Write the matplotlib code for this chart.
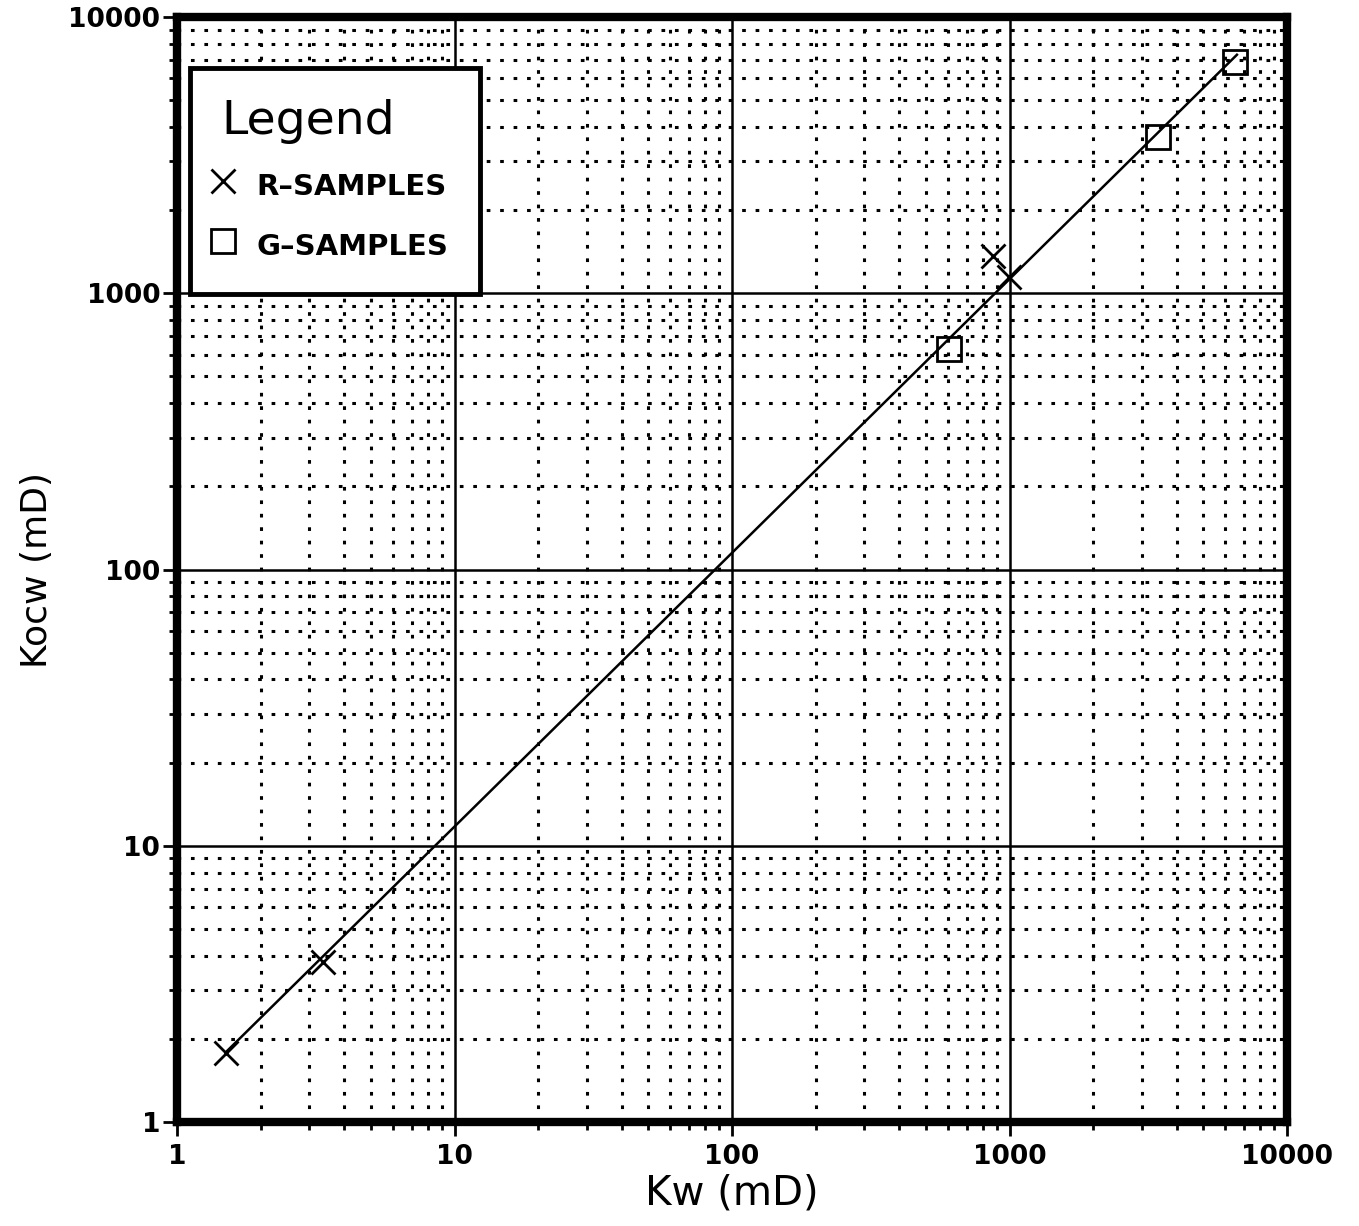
import matplotlib
matplotlib.use("Agg")
import matplotlib.pyplot as plt
from matplotlib.ticker import LogLocator, FixedLocator, NullFormatter, FixedFormatter
from matplotlib.lines import Line2D

# Data
r_kw = [1.5, 3.36, 872, 996]
r_kocw = [1.78, 3.8, 1364, 1145]
g_kw = [605, 3430, 6500]
g_kocw = [629, 3680, 6875]
fit_kw = [1.5, 6600]
fit_kocw = [1.79, 7300]

xticks = [1, 10, 100, 1000, 10000]
xticklabels = ["1", "10", "100", "1000", "10000"]
yticks = [1, 10, 100, 1000, 10000]
yticklabels = ["1", "10", "100", "1000", "10000"]

plt.rcParams['font.family'] = ['DejaVu Sans']

fig = plt.figure(figsize=(13.59, 12.26), dpi=100)
ax = fig.add_axes([177/1359, 1 - 1122/1226, 1110/1359, 1105/1226])
ax.set_xscale('log')
ax.set_yscale('log')
ax.set_xlim(1, 10000)
ax.set_ylim(1, 10000)

ax.plot(fit_kw, fit_kocw, color='black', lw=1.8, zorder=3)
ax.plot(r_kw, r_kocw, linestyle='none', marker='x', ms=17, mew=2, color='black', zorder=4)
ax.plot(g_kw, g_kocw, linestyle='none', marker='s', ms=17, mew=2, mfc='none', mec='black', zorder=4)

ax.xaxis.set_major_locator(FixedLocator(xticks))
ax.xaxis.set_major_formatter(FixedFormatter(xticklabels))
ax.yaxis.set_major_locator(FixedLocator(yticks))
ax.yaxis.set_major_formatter(FixedFormatter(yticklabels))
ax.xaxis.set_minor_locator(LogLocator(base=10, subs=range(2, 10), numticks=20))
ax.yaxis.set_minor_locator(LogLocator(base=10, subs=range(2, 10), numticks=20))
ax.xaxis.set_minor_formatter(NullFormatter())
ax.yaxis.set_minor_formatter(NullFormatter())

ax.grid(True, which='major', color='black', lw=1.8, ls='-', zorder=1)
ax.grid(True, which='minor', color='black', lw=2.2, ls=(0, (1.2, 3.2)), zorder=1)
ax.set_axisbelow(True)

for s in ax.spines.values():
    s.set_linewidth(6)

ax.tick_params(which='major', direction='out', length=10, width=2, labelsize=19)
ax.tick_params(which='minor', direction='out', length=6, width=2)
ax.tick_params(axis='y', which='major', pad=2)
ax.tick_params(axis='x', which='major', pad=6)
for lab in ax.get_xticklabels() + ax.get_yticklabels():
    lab.set_fontweight('bold')

ax.set_xlabel("Kw (mD)", fontsize=29, labelpad=2)
ax.set_ylabel("Kocw (mD)", fontsize=26, labelpad=10)

handles = [
    Line2D([], [], linestyle='none', marker='x', ms=17, mew=2, color='black'),
    Line2D([], [], linestyle='none', marker='s', ms=17, mew=2, mfc='none', mec='black'),
]
leg = ax.legend(handles, ["R\u2013SAMPLES", "G\u2013SAMPLES"], title="Legend",
                loc='upper left', bbox_to_anchor=(0.012, 0.954),
                fontsize=21, title_fontsize=34, alignment='left',
                frameon=True, fancybox=False, edgecolor='black', framealpha=1,
                borderpad=1.06, labelspacing=0.82, handleheight=1.5,
                handletextpad=1.12, handlelength=0.1,
                borderaxespad=0)
leg.get_frame().set_linewidth(3.5)
for t in leg.get_texts():
    t.set_fontweight('bold')
leg.set_zorder(10)

fig.savefig("out.png", dpi=100, facecolor='white')
